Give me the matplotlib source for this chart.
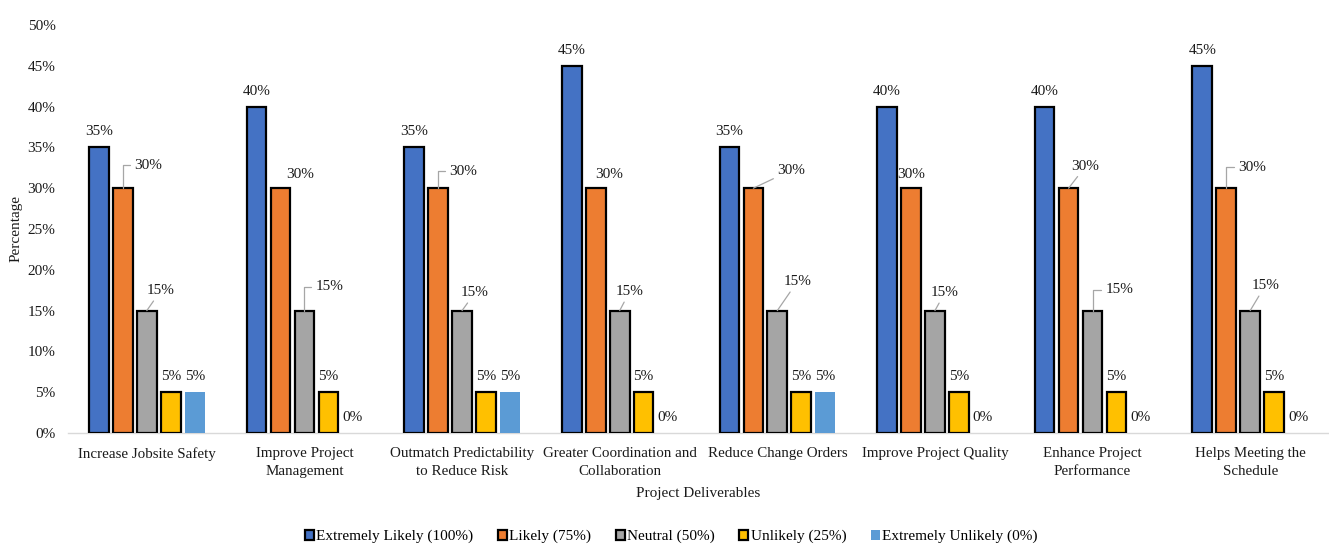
import numpy as np
import matplotlib.pyplot as plt

plt.rcParams['font.family'] = ['Liberation Serif', 'DejaVu Serif']

categories = [
    "Increase Jobsite Safety",
    "Improve Project\nManagement",
    "Outmatch Predictability\nto Reduce Risk",
    "Greater Coordination and\nCollaboration",
    "Reduce Change Orders",
    "Improve Project Quality",
    "Enhance Project\nPerformance",
    "Helps Meeting the\nSchedule",
]
series_names = [
    "Extremely Likely (100%)",
    "Likely (75%)",
    "Neutral (50%)",
    "Unlikely (25%)",
    "Extremely Unlikely (0%)",
]
extremely_likely = [35, 40, 35, 45, 35, 40, 40, 45]
likely = [30, 30, 30, 30, 30, 30, 30, 30]
neutral = [15, 15, 15, 15, 15, 15, 15, 15]
unlikely = [5, 5, 5, 5, 5, 5, 5, 5]
extremely_unlikely = [5, 0, 5, 0, 5, 0, 0, 0]

colors = ["#4472C4", "#ED7D31", "#A5A5A5", "#FFC000", "#5B9BD5"]
edges = ["black", "black", "black", "black", "none"]
text_color = "#1A1A1A"

# label placement (pixels from bar top, leader style) for the crowded series
label_moves = {
    1: [(25, 23, "elbow"), (20, 14, None), (25, 17, "elbow"), (13, 14, None),
        (38, 18, "line"), (0, 14, None), (17, 22, "line"), (26, 21, "elbow")],
    2: [(14, 20, "line"), (25, 24, "elbow"), (13, 18, "line"), (10, 19, "line"),
        (20, 29, "line"), (10, 18, "line"), (27, 21, "elbow"), (15, 25, "line")],
}

fig = plt.figure(figsize=(13.29, 5.45), dpi=100)
ax = fig.add_axes([68 / 1329, 1 - 433 / 545, 1 - 68 / 1329, (433 - 25) / 545])

x = np.arange(len(categories))
step = 0.152
width = 0.125
all_series = [extremely_likely, likely, neutral, unlikely, extremely_unlikely]

for i, (vals, name) in enumerate(zip(all_series, series_names)):
    pos = x + (i - 2) * step
    ax.bar(pos, vals, width, color=colors[i], edgecolor=edges[i],
           linewidth=1.6 if edges[i] != "none" else 0, label=name, zorder=3)
    for j, (px, v) in enumerate(zip(pos, vals)):
        dx, dy, leader = (0, 15.5, None)
        if i in label_moves:
            dx, dy, leader = label_moves[i][j]
        arrow = None
        if leader == "elbow":
            arrow = dict(arrowstyle="-", color="#A6A6A6", lw=0.9,
                         connectionstyle="angle,angleA=0,angleB=90,rad=0",
                         shrinkA=1, shrinkB=0)
        elif leader == "line":
            arrow = dict(arrowstyle="-", color="#A6A6A6", lw=0.9,
                         shrinkA=1, shrinkB=0)
        ax.annotate(f"{v}%", xy=(px, v), xytext=(dx, dy),
                    textcoords="offset pixels", ha="center", va="center",
                    fontsize=11, color=text_color, arrowprops=arrow,
                    zorder=4)

ax.set_xlim(-0.5, len(categories) - 0.5)
ax.set_ylim(0, 50)
ax.set_yticks(np.arange(0, 51, 5))
ax.set_yticklabels([f"{t}%" for t in range(0, 51, 5)], fontsize=11,
                   color=text_color)
ax.set_xticks(x)
ax.set_xticklabels(categories, fontsize=10.8, color=text_color,
                   linespacing=1.55)
ax.tick_params(axis="y", length=0, pad=9)
ax.tick_params(axis="x", length=0, pad=10)
for side in ["top", "right", "left"]:
    ax.spines[side].set_visible(False)
ax.spines["bottom"].set_color("#D9D9D9")
ax.spines["bottom"].set_linewidth(1.0)

ax.set_ylabel("Percentage", fontsize=11, color=text_color, labelpad=4)
ax.set_xlabel("Project Deliverables", fontsize=11, color=text_color,
              labelpad=6)

fig.legend(loc="lower center", bbox_to_anchor=(0.505, -0.022), ncol=5,
           frameon=False, fontsize=11, handlelength=0.6,
           handleheight=0.6, handletextpad=0.15, columnspacing=1.6)

fig.savefig("out.png", dpi=100)
